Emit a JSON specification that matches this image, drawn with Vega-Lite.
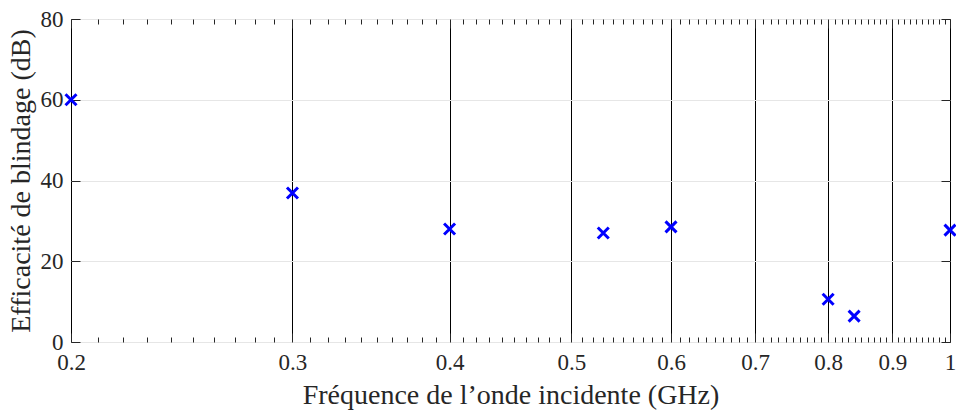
{
  "$schema": "https://vega.github.io/schema/vega-lite/v6.json",
  "width": 879,
  "height": 323,
  "autosize": "none",
  "padding": {"left": 71, "top": 19, "right": 6, "bottom": 68},
  "background": "white",
  "config": {
    "view": {"stroke": "#262626", "strokeWidth": 1},
    "font": "'Liberation Serif', 'DejaVu Serif', serif",
    "axis": {
      "labelFont": "'Liberation Serif', 'DejaVu Serif', serif",
      "titleFont": "'Liberation Serif', 'DejaVu Serif', serif",
      "labelColor": "#262626",
      "titleColor": "#262626",
      "labelFontSize": 23,
      "titleFontSize": 28,
      "titleFontWeight": "normal",
      "domainColor": "#262626",
      "tickColor": "#262626",
      "labelOverlap": false,
      "labelFlush": false
    }
  },
  "data": {
    "values": [
      {"f": 0.2, "se": 60.0},
      {"f": 0.3, "se": 36.9},
      {"f": 0.4, "se": 28.0},
      {"f": 0.53, "se": 27.0},
      {"f": 0.6, "se": 28.5},
      {"f": 0.8, "se": 10.6},
      {"f": 0.839, "se": 6.4},
      {"f": 1.0, "se": 27.7}
    ]
  },
  "resolve": {"axis": {"x": "independent", "y": "independent"}},
  "layer": [
    {
      "mark": {"type": "point", "opacity": 0},
      "encoding": {
        "x": {
          "field": "f", "type": "quantitative",
          "scale": {"type": "log", "domain": [0.2, 1], "nice": false},
          "axis": {
            "orient": "top", "labels": false, "title": null, "grid": false, "domain": false,
            "values": [0.2,0.21,0.22,0.23,0.24,0.25,0.26,0.27,0.28,0.29,0.3,0.31,0.32,0.33,0.34,0.35,0.36,0.37,0.38,0.39,0.4,0.41,0.42,0.43,0.44,0.45,0.46,0.47,0.48,0.49,0.5,0.51,0.52,0.53,0.54,0.55,0.56,0.57,0.58,0.59,0.6,0.61,0.62,0.63,0.64,0.65,0.66,0.67,0.68,0.69,0.7,0.71,0.72,0.73,0.74,0.75,0.76,0.77,0.78,0.79,0.8,0.81,0.82,0.83,0.84,0.85,0.86,0.87,0.88,0.89,0.9,0.91,0.92,0.93,0.94,0.95,0.96,0.97,0.98,0.99,1],
            "tickSize": {"condition": {"test": "abs(datum.value*10 - round(datum.value*10)) < 0.000001", "value": -9}, "value": -5}
          }
        },
        "y": {
          "field": "se", "type": "quantitative",
          "scale": {"domain": [0, 80], "nice": false},
          "axis": {
            "orient": "right", "labels": false, "title": null, "grid": false, "domain": false,
            "values": [0, 20, 40, 60, 80], "tickSize": -9
          }
        }
      }
    },
    {
      "mark": {
        "type": "point",
        "shape": "M-1,-1L1,1M1,-1L-1,1",
        "filled": false,
        "stroke": "#0000ff",
        "strokeWidth": 3,
        "size": 121,
        "opacity": 1,
        "clip": false
      },
      "encoding": {
        "x": {
          "field": "f", "type": "quantitative",
          "scale": {"type": "log", "domain": [0.2, 1], "nice": false},
          "axis": {
            "orient": "bottom",
            "title": "Fréquence de l’onde incidente (GHz)",
            "titlePadding": 3,
            "domain": false,
            "values": [0.2,0.21,0.22,0.23,0.24,0.25,0.26,0.27,0.28,0.29,0.3,0.31,0.32,0.33,0.34,0.35,0.36,0.37,0.38,0.39,0.4,0.41,0.42,0.43,0.44,0.45,0.46,0.47,0.48,0.49,0.5,0.51,0.52,0.53,0.54,0.55,0.56,0.57,0.58,0.59,0.6,0.61,0.62,0.63,0.64,0.65,0.66,0.67,0.68,0.69,0.7,0.71,0.72,0.73,0.74,0.75,0.76,0.77,0.78,0.79,0.8,0.81,0.82,0.83,0.84,0.85,0.86,0.87,0.88,0.89,0.9,0.91,0.92,0.93,0.94,0.95,0.96,0.97,0.98,0.99,1],
            "labelExpr": "abs(datum.value*10 - round(datum.value*10)) < 0.000001 ? format(datum.value, '.1~f') : ''",
            "labelPadding": 18,
            "tickSize": {"condition": {"test": "abs(datum.value*10 - round(datum.value*10)) < 0.000001", "value": -9}, "value": -5},
            "grid": true,
            "gridColor": "#000000",
            "gridWidth": 1,
            "gridOpacity": {"condition": {"test": "abs(datum.value*10 - round(datum.value*10)) < 0.000001", "value": 1}, "value": 0}
          }
        },
        "y": {
          "field": "se", "type": "quantitative",
          "scale": {"domain": [0, 80], "nice": false},
          "axis": {
            "orient": "left",
            "title": "Efficacité de blindage (dB)",
            "titlePadding": 5,
            "domain": false,
            "values": [0, 20, 40, 60, 80],
            "labelPadding": 17,
            "tickSize": -9,
            "grid": true,
            "gridColor": "#e6e6e6",
            "gridWidth": 1
          }
        }
      }
    }
  ]
}
